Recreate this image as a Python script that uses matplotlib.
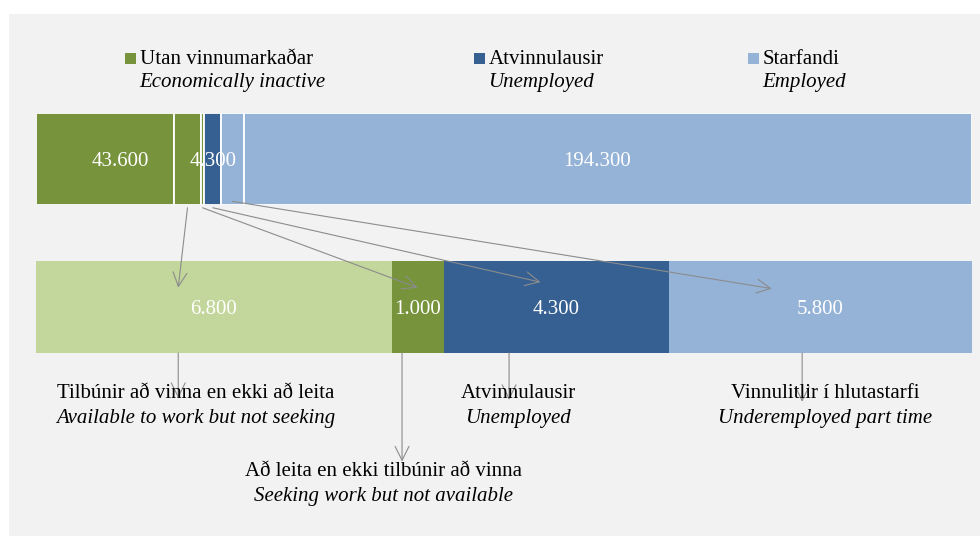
import matplotlib
matplotlib.use("Agg")
import matplotlib.pyplot as plt
from matplotlib.patches import Rectangle, ConnectionPatch

plt.rcParams['font.family'] = ['Liberation Serif', 'DejaVu Serif']

# top bar: inactive (not in slack), available not seeking, seeking not available,
# unemployed, underemployed part time, other employed  (thousands)
top_values = [35.8, 6.8, 1.0, 4.3, 5.8, 188.5]
# bottom bar: the labour slack breakdown
slack_values = [6.8, 1.0, 4.3, 5.8]
slack_labels = ['6.800', '1.000', '4.300', '5.800']

# group totals printed on the top bar
group_labels = ['43.600', '4.300', '194.300']
group_members = [[0, 1, 2], [3], [4, 5]]

legend_is = ['Utan vinnumarkaðar', 'Atvinnulausir', 'Starfandi']
legend_en = ['Economically inactive', 'Unemployed', 'Employed']

slack_names_is = ['Tilbúnir að vinna en ekki að leita', 'Að leita en ekki tilbúnir að vinna',
                  'Atvinnulausir', 'Vinnulitlir í hlutastarfi']
slack_names_en = ['Available to work but not seeking', 'Seeking work but not available',
                  'Unemployed', 'Underemployed part time']

OLIVE = '#77933C'
LGREEN = '#C3D69B'
DBLUE = '#366092'
LBLUE = '#95B3D7'
GRAY = '#8C8C8C'

top_colors = [OLIVE, OLIVE, OLIVE, DBLUE, LBLUE, LBLUE]
slack_colors = [LGREEN, OLIVE, DBLUE, LBLUE]
legend_colors = [OLIVE, DBLUE, LBLUE]

W, H = 980, 536
fig = plt.figure(figsize=(W / 100, H / 100), dpi=100, facecolor='white')


def fx(px):
    return px / W


def fy(py):
    return 1 - py / H


# grey chart area
fig.patches.append(Rectangle((fx(9), 0), 1 - fx(9), fy(14), transform=fig.transFigure,
                             facecolor='#F2F2F2', edgecolor='none', zorder=-10))

ax_top = fig.add_axes([fx(36), fy(205), fx(972) - fx(36), fy(113) - fy(205)])
ax_bot = fig.add_axes([fx(36), fy(353), fx(972) - fx(36), fy(261) - fy(353)])

# top bar
left = 0
top_lefts = []
for v, c in zip(top_values, top_colors):
    ax_top.barh(0, v, left=left, height=1, color=c, edgecolor='white', linewidth=1.3)
    top_lefts.append(left)
    left += v
ax_top.set_xlim(0, sum(top_values))

for lab, members in zip(group_labels, group_members):
    start = top_lefts[members[0]]
    end = top_lefts[members[-1]] + top_values[members[-1]]
    ax_top.text((start + end) / 2, -0.03, lab, ha='center', va='center', color='white', fontsize=15)

# bottom bar
left = 0
slack_lefts = []
for v, c, lab in zip(slack_values, slack_colors, slack_labels):
    ax_bot.barh(0, v, left=left, height=1, color=c, edgecolor='none')
    ax_bot.text(left + v / 2, -0.03, lab, ha='center', va='center', color='white', fontsize=15)
    slack_lefts.append(left)
    left += v
ax_bot.set_xlim(0, sum(slack_values))

for ax in (ax_top, ax_bot):
    ax.set_ylim(-0.5, 0.5)
    ax.axis('off')
    ax.patch.set_alpha(0)

arrow_style = '->,head_length=1.0,head_width=0.5'

# arrows from slack pieces in the top bar to the bottom bar
src_idx = [1, 2, 3, 4]
src_y = [-0.53, -0.53, -0.53, -0.46]
tip_frac = [0.40, 0.5, 0.43, 0.34]
tip_y = [0.21, 0.21, 0.27, 0.20]
for k in range(4):
    i = src_idx[k]
    xa = top_lefts[i] + top_values[i] / 2
    xb = slack_lefts[k] + slack_values[k] * tip_frac[k]
    con = ConnectionPatch(xyA=(xa, src_y[k]), coordsA=ax_top.transData,
                          xyB=(xb, tip_y[k]), coordsB=ax_bot.transData,
                          arrowstyle=arrow_style, color=GRAY, lw=0.8,
                          mutation_scale=10, shrinkA=0, shrinkB=0)
    fig.add_artist(con)

# drop lines from the bottom bar to the labels
drop_frac = [0.40, 0.2, 0.29, 0.44]
drop_tip = [-0.99, -1.68, -1.01, -1.03]
for k in range(4):
    x = slack_lefts[k] + slack_values[k] * drop_frac[k]
    ax_bot.annotate('', xy=(x, drop_tip[k]), xytext=(x, -0.5),
                    arrowprops=dict(arrowstyle=arrow_style, color=GRAY, lw=0.8,
                                    mutation_scale=10, shrinkA=0, shrinkB=0),
                    annotation_clip=False)

label_x = [196, 383, 518, 825]
label_y = [394, 471, 394, 394]
for k in range(4):
    fig.text(fx(label_x[k]), fy(label_y[k]), slack_names_is[k], ha='center', va='center', fontsize=15)
    fig.text(fx(label_x[k]), fy(label_y[k] + 25), slack_names_en[k], ha='center', va='center',
             fontsize=15, style='italic')

# legend
leg_x = [125, 474, 748]
for k in range(3):
    fig.patches.append(Rectangle((fx(leg_x[k]), fy(64)), fx(11), fy(53) - fy(64),
                                 transform=fig.transFigure, facecolor=legend_colors[k],
                                 edgecolor='none'))
    fig.text(fx(leg_x[k] + 15), fy(60), legend_is[k], ha='left', va='center', fontsize=15)
    fig.text(fx(leg_x[k] + 14), fy(82), legend_en[k], ha='left', va='center', fontsize=15,
             style='italic')

fig.savefig('out.png', dpi=100, facecolor=fig.get_facecolor())
